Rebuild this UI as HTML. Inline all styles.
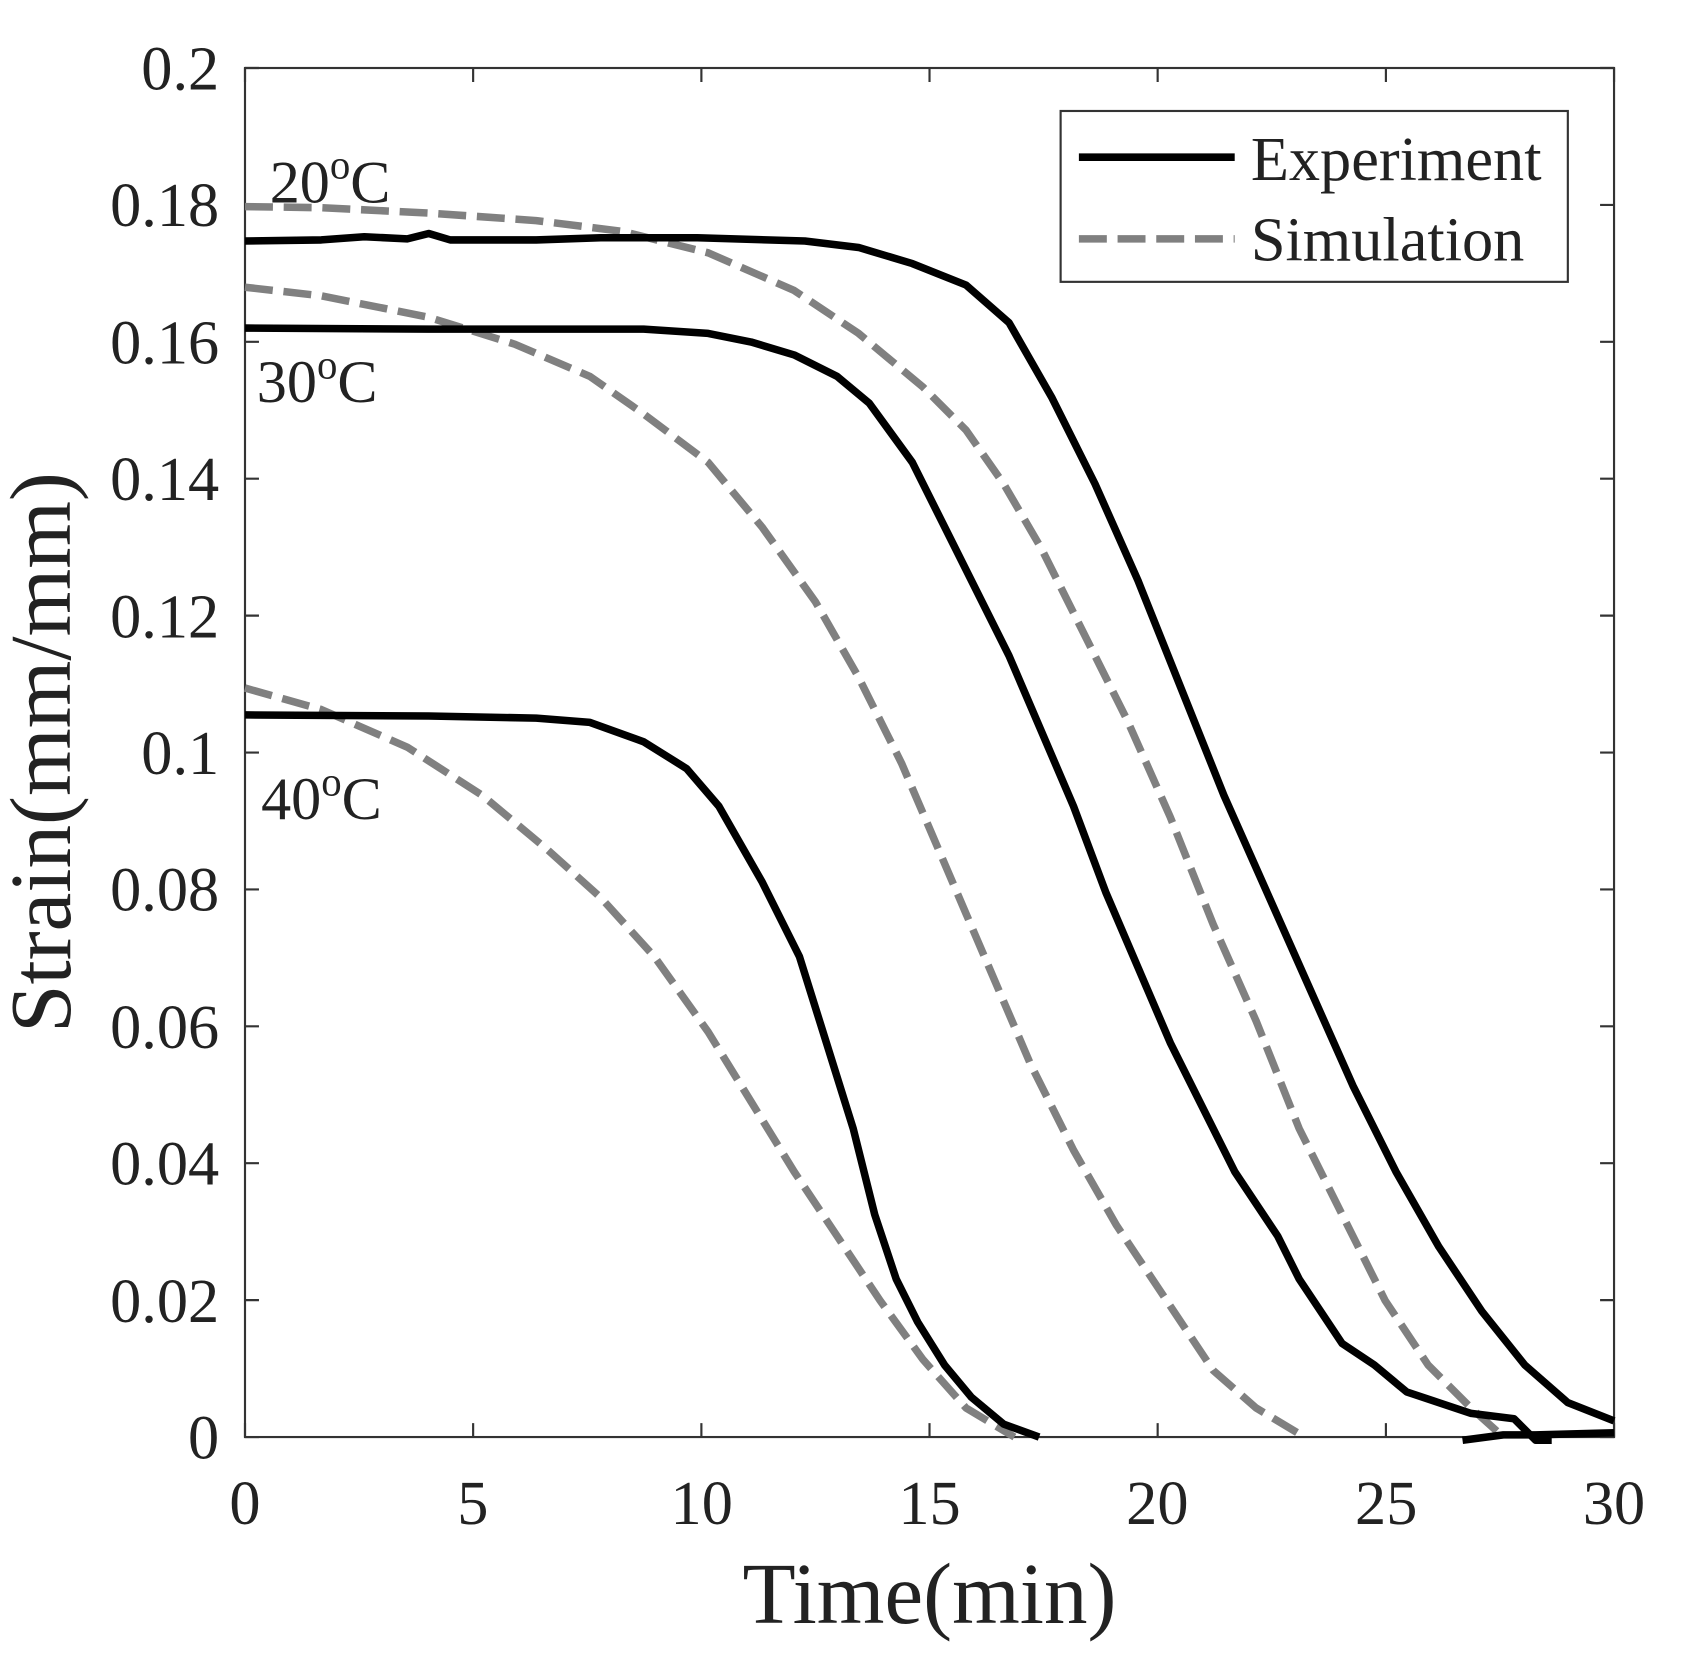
<!DOCTYPE html>
<html><head><style>html,body{margin:0;padding:0;background:#fff}</style></head>
<body>
<svg width="1683" height="1660" xmlns="http://www.w3.org/2000/svg">
<g transform="translate(245,68) scale(1.0746) translate(-229,-63)" font-family="Liberation Serif, serif" fill="#222">
<rect x="229" y="63" width="1274" height="1274" fill="none" stroke="#333" stroke-width="2"/>
<g stroke="#333" stroke-width="2">
<path d="M229,1337v-13M441.3,1337v-13M653.7,1337v-13M866,1337v-13M1078.3,1337v-13M1290.7,1337v-13M1503,1337v-13
M229,63v13M441.3,63v13M653.7,63v13M866,63v13M1078.3,63v13M1290.7,63v13M1503,63v13
M229,1337h13M229,1209.6h13M229,1082.2h13M229,954.8h13M229,827.4h13M229,700h13M229,572.6h13M229,445.2h13M229,317.8h13M229,190.4h13M229,63h13
M1503,1337h-13M1503,1209.6h-13M1503,1082.2h-13M1503,954.8h-13M1503,827.4h-13M1503,700h-13M1503,572.6h-13M1503,445.2h-13M1503,317.8h-13M1503,190.4h-13M1503,63h-13"/>
</g>
<g font-size="58" text-anchor="end">
<text x="205" y="1357">0</text><text x="205" y="1230">0.02</text><text x="205" y="1102">0.04</text>
<text x="205" y="975">0.06</text><text x="205" y="847">0.08</text><text x="205" y="720">0.1</text>
<text x="205" y="593">0.12</text><text x="205" y="465">0.14</text><text x="205" y="338">0.16</text>
<text x="205" y="210">0.18</text><text x="205" y="83">0.2</text>
</g>
<g font-size="58" text-anchor="middle">
<text x="229" y="1418">0</text><text x="441" y="1418">5</text><text x="654" y="1418">10</text>
<text x="866" y="1418">15</text><text x="1078" y="1418">20</text><text x="1291" y="1418">25</text><text x="1503" y="1418">30</text>
</g>
<text x="866" y="1510" font-size="81" text-anchor="middle">Time(min)</text>
<text transform="translate(66,700) rotate(-90)" font-size="81" text-anchor="middle">Strain(mm/mm)</text>
<g font-size="56">
<text x="252" y="188">20<tspan dy="-22" font-size="38">o</tspan><tspan dy="22">C</tspan></text>
<text x="240" y="374">30<tspan dy="-22" font-size="38">o</tspan><tspan dy="22">C</tspan></text>
<text x="244" y="762">40<tspan dy="-22" font-size="38">o</tspan><tspan dy="22">C</tspan></text>
</g>
<g fill="none" stroke-linejoin="round">
<g stroke="#808080" stroke-width="7">
<polyline stroke-dasharray="26,10" points="229,192 300,193 400,198 500,205 580,215 660,235 740,270 800,310 860,360 900,400 935,450 970,510 1010,590 1050,670 1090,760 1130,860 1170,950 1210,1050 1250,1130 1290,1210 1330,1270 1370,1310 1400,1337"/>
<polyline stroke-dasharray="26,10" points="229,267 300,275 400,295 480,320 550,350 600,385 660,430 710,490 760,560 800,630 840,710 870,780 900,850 930,920 960,990 1000,1070 1040,1140 1080,1200 1130,1275 1170,1310 1215,1337"/>
<polyline stroke-dasharray="26,10" points="229,640 300,660 380,695 450,740 510,790 560,835 610,890 660,960 700,1025 740,1090 780,1150 820,1210 860,1265 900,1310 945,1337"/>
</g>
<g stroke="#000" stroke-width="7">
<polyline points="229,224 300,223 340,220 380,222 400,217 420,223 500,223 560,221 650,221 750,224 800,230 850,245 900,265 940,300 980,370 1020,450 1060,540 1100,640 1140,740 1180,830 1220,920 1260,1010 1300,1090 1340,1160 1380,1220 1420,1270 1460,1305 1503,1322"/>
<polyline points="229,305 400,306 600,306 660,310 700,318 740,330 780,350 810,375 850,430 880,490 910,550 940,610 970,680 1000,750 1030,830 1060,900 1090,970 1120,1030 1150,1090 1190,1150 1210,1190 1250,1250 1280,1270 1310,1295 1340,1305 1370,1315 1410,1320 1430,1340 1445,1340"/>
<polyline points="1362,1340 1400,1335 1430,1335 1503,1333"/>
<polyline points="229,665 400,666 500,668 550,672 600,690 640,715 670,750 710,820 745,890 770,970 795,1050 815,1130 835,1190 855,1230 880,1270 905,1300 935,1325 968,1337"/>
</g>
</g>
<rect x="988" y="103" width="472" height="159" fill="#fff" stroke="#333" stroke-width="2"/>
<line x1="1005" y1="146" x2="1150" y2="146" stroke="#000" stroke-width="7"/>
<line x1="1005" y1="222" x2="1150" y2="222" stroke="#808080" stroke-width="7" stroke-dasharray="26,10"/>
<g font-size="58"><text x="1165" y="167">Experiment</text><text x="1165" y="242">Simulation</text></g>
</g>
</svg>
</body></html>
